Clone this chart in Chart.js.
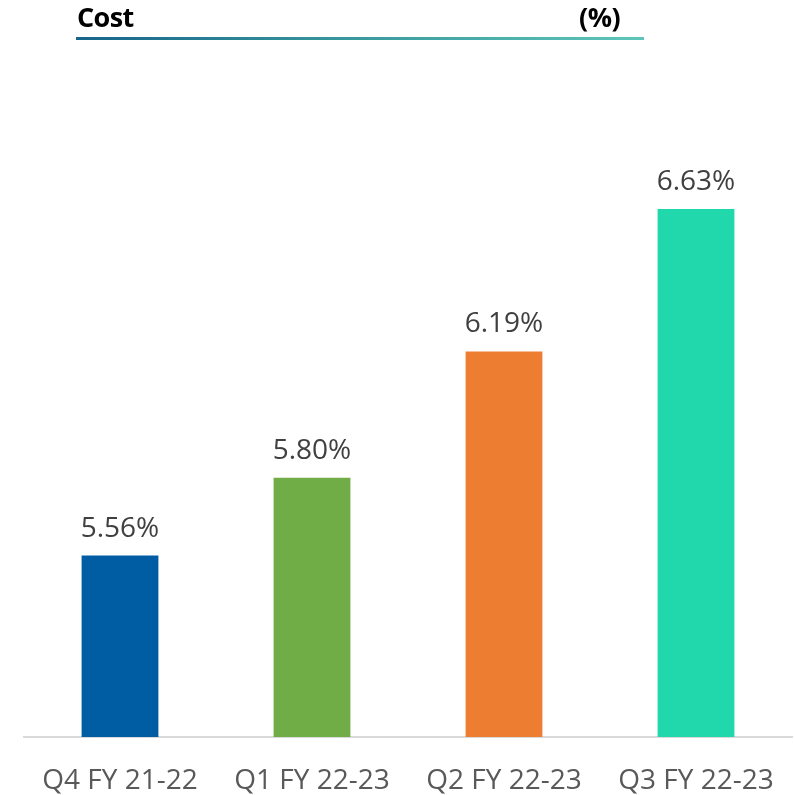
<!DOCTYPE html>
<html><head><meta charset="utf-8">
<script src="https://cdn.jsdelivr.net/npm/chart.js@4/dist/chart.umd.min.js"></script>
<style>
html,body{margin:0;padding:0;background:#fff;}
#wrap{position:relative;width:794px;height:795px;}
#t1{position:absolute;left:77px;top:-2px;font:bold 27px "Open Sans",sans-serif;color:#000;letter-spacing:-0.6px;}
#t2{position:absolute;left:579px;top:-2px;font:bold 27px "Open Sans",sans-serif;color:#000;letter-spacing:-0.5px;}
#line{position:absolute;left:76px;top:37px;width:568px;height:3px;background:linear-gradient(to right,#17658a,#3a9a9e 50%,#5ec6b9);}
canvas{position:absolute;left:0;top:0;}
</style></head>
<body><div id="wrap">
<canvas id="c" width="794" height="795"></canvas>
<div id="t1">Cost</div><div id="t2">(%)</div><div id="line"></div>
</div>
<script>
const categories = ["Q4 FY 21-22","Q1 FY 22-23","Q2 FY 22-23","Q3 FY 22-23"];
const values = [5.56, 5.80, 6.19, 6.63];
const valueLabels = ["5.56%","5.80%","6.19%","6.63%"];
const barColors = ["#005ca3","#70ad47","#ed7d31","#20d8ac"];

const labelPlugin = {
  id:'lbls',
  afterDatasetsDraw(chart){
    const ctx = chart.ctx;
    const meta = chart.getDatasetMeta(0);
    ctx.save();
    ctx.font = '28px "Open Sans", sans-serif';
    ctx.fillStyle = '#404040';
    ctx.textAlign = 'center';
    ctx.textBaseline = 'alphabetic';
    meta.data.forEach((b,i)=>{ ctx.fillText(valueLabels[i], b.x, b.y - 19); });
    ctx.restore();
  }
};

new Chart(document.getElementById('c'), {
  type:'bar',
  data:{labels:categories, datasets:[{data:values, backgroundColor:barColors, categoryPercentage:1, barPercentage:0.4}]},
  options:{
    responsive:false, animation:false,
    layout:{padding:{left:24,right:2,top:89,bottom:0}},
    plugins:{legend:{display:false},tooltip:{enabled:false}},
    scales:{
      x:{
        grid:{display:false, drawTicks:false},
        border:{display:true,color:'#d9d9d9',width:2},
        ticks:{color:'#595959',font:{family:'"Open Sans", sans-serif',size:28},padding:27,maxRotation:0},
        afterFit(s){ s.height = 58; s.paddingLeft = 0; s.paddingRight = 0; }
      },
      y:{display:false,min:5,max:7}
    }
  },
  plugins:[labelPlugin]
});
</script>
</body></html>
